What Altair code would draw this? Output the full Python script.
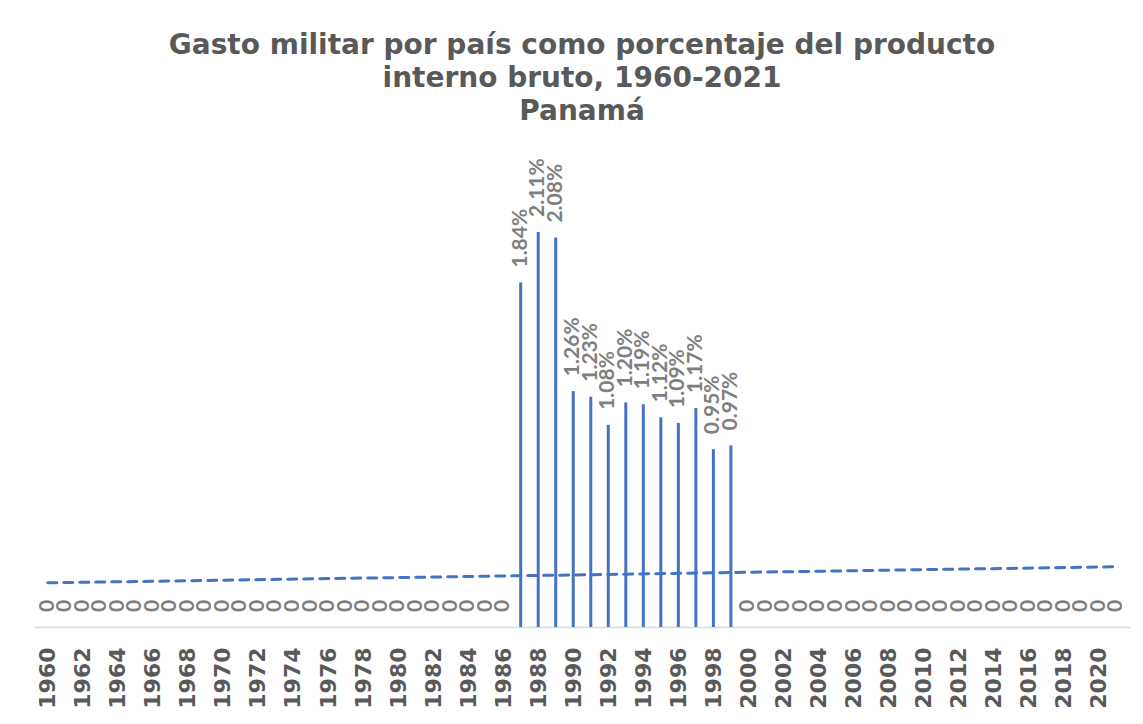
import altair as alt
import pandas as pd

years = list(range(1960, 2022))
# Military spending as % of GDP (Panamá); zeros shown as "0" labels in the reference
values = (
    [0.0] * 27
    + [1.84, 2.11, 2.08, 1.26, 1.23, 1.08, 1.20, 1.19, 1.12, 1.09, 1.17, 0.95, 0.97]
    + [0.0] * 22
)
tick_years = list(range(1960, 2021, 2))
title_lines = [
    "Gasto militar por país como porcentaje del producto",
    "interno bruto, 1960-2021",
    "Panamá",
]

df = pd.DataFrame({"year": years, "value": values})
df["label"] = [f"{v:.2f}%" if v > 0 else "0" for v in values]

BLUE = "#4472C4"

x = alt.X(
    "year:Q",
    scale=alt.Scale(domain=[1959.5, 2021.5], nice=False, zero=False),
    axis=alt.Axis(
        values=tick_years,
        format="d",
        title=None,
        labelAngle=270,
        labelFont="DejaVu Sans",
        labelFontWeight="bold",
        labelFontSize=22,
        labelColor="#595959",
        labelPadding=20,
        ticks=False,
        grid=False,
        domainColor="#D9D9D9",
        domainWidth=1.5,
        labelOverlap=False,
        labelFlush=False,
    ),
)
y = alt.Y("value:Q", scale=alt.Scale(domain=[0, 2.5], nice=False), axis=None)

base = alt.Chart(df)

bars = base.mark_bar(size=3, color=BLUE).encode(x=x, y=y)

labels = base.mark_text(
    angle=270,
    align="left",
    baseline="middle",
    dx=15,
    font="Lato",
    fontSize=21,
    fontWeight="bold",
    color="#7F7F7F",
).encode(x=x, y=y, text="label:N")

trend = (
    base.transform_regression("year", "value")
    .mark_line(color=BLUE, strokeWidth=3, strokeDash=[9, 7], strokeCap="round")
    .encode(x=x, y=y)
)

chart = (
    alt.layer(bars, trend, labels)
    .properties(
        width=1096,
        height=468,
        autosize=alt.AutoSizeParams(type="none"),
        padding={"left": 26, "top": 151, "right": 5, "bottom": 85},
        title=alt.Title(
            title_lines,
            font="DejaVu Sans",
            fontSize=28,
            fontWeight="bold",
            color="#595959",
            lineHeight=33,
            anchor="middle",
            baseline="bottom",
            offset=4,
        ),
    )
    .configure_view(strokeWidth=0)
)

chart.save("out.html", embed_options={"renderer": "svg", "actions": False})
